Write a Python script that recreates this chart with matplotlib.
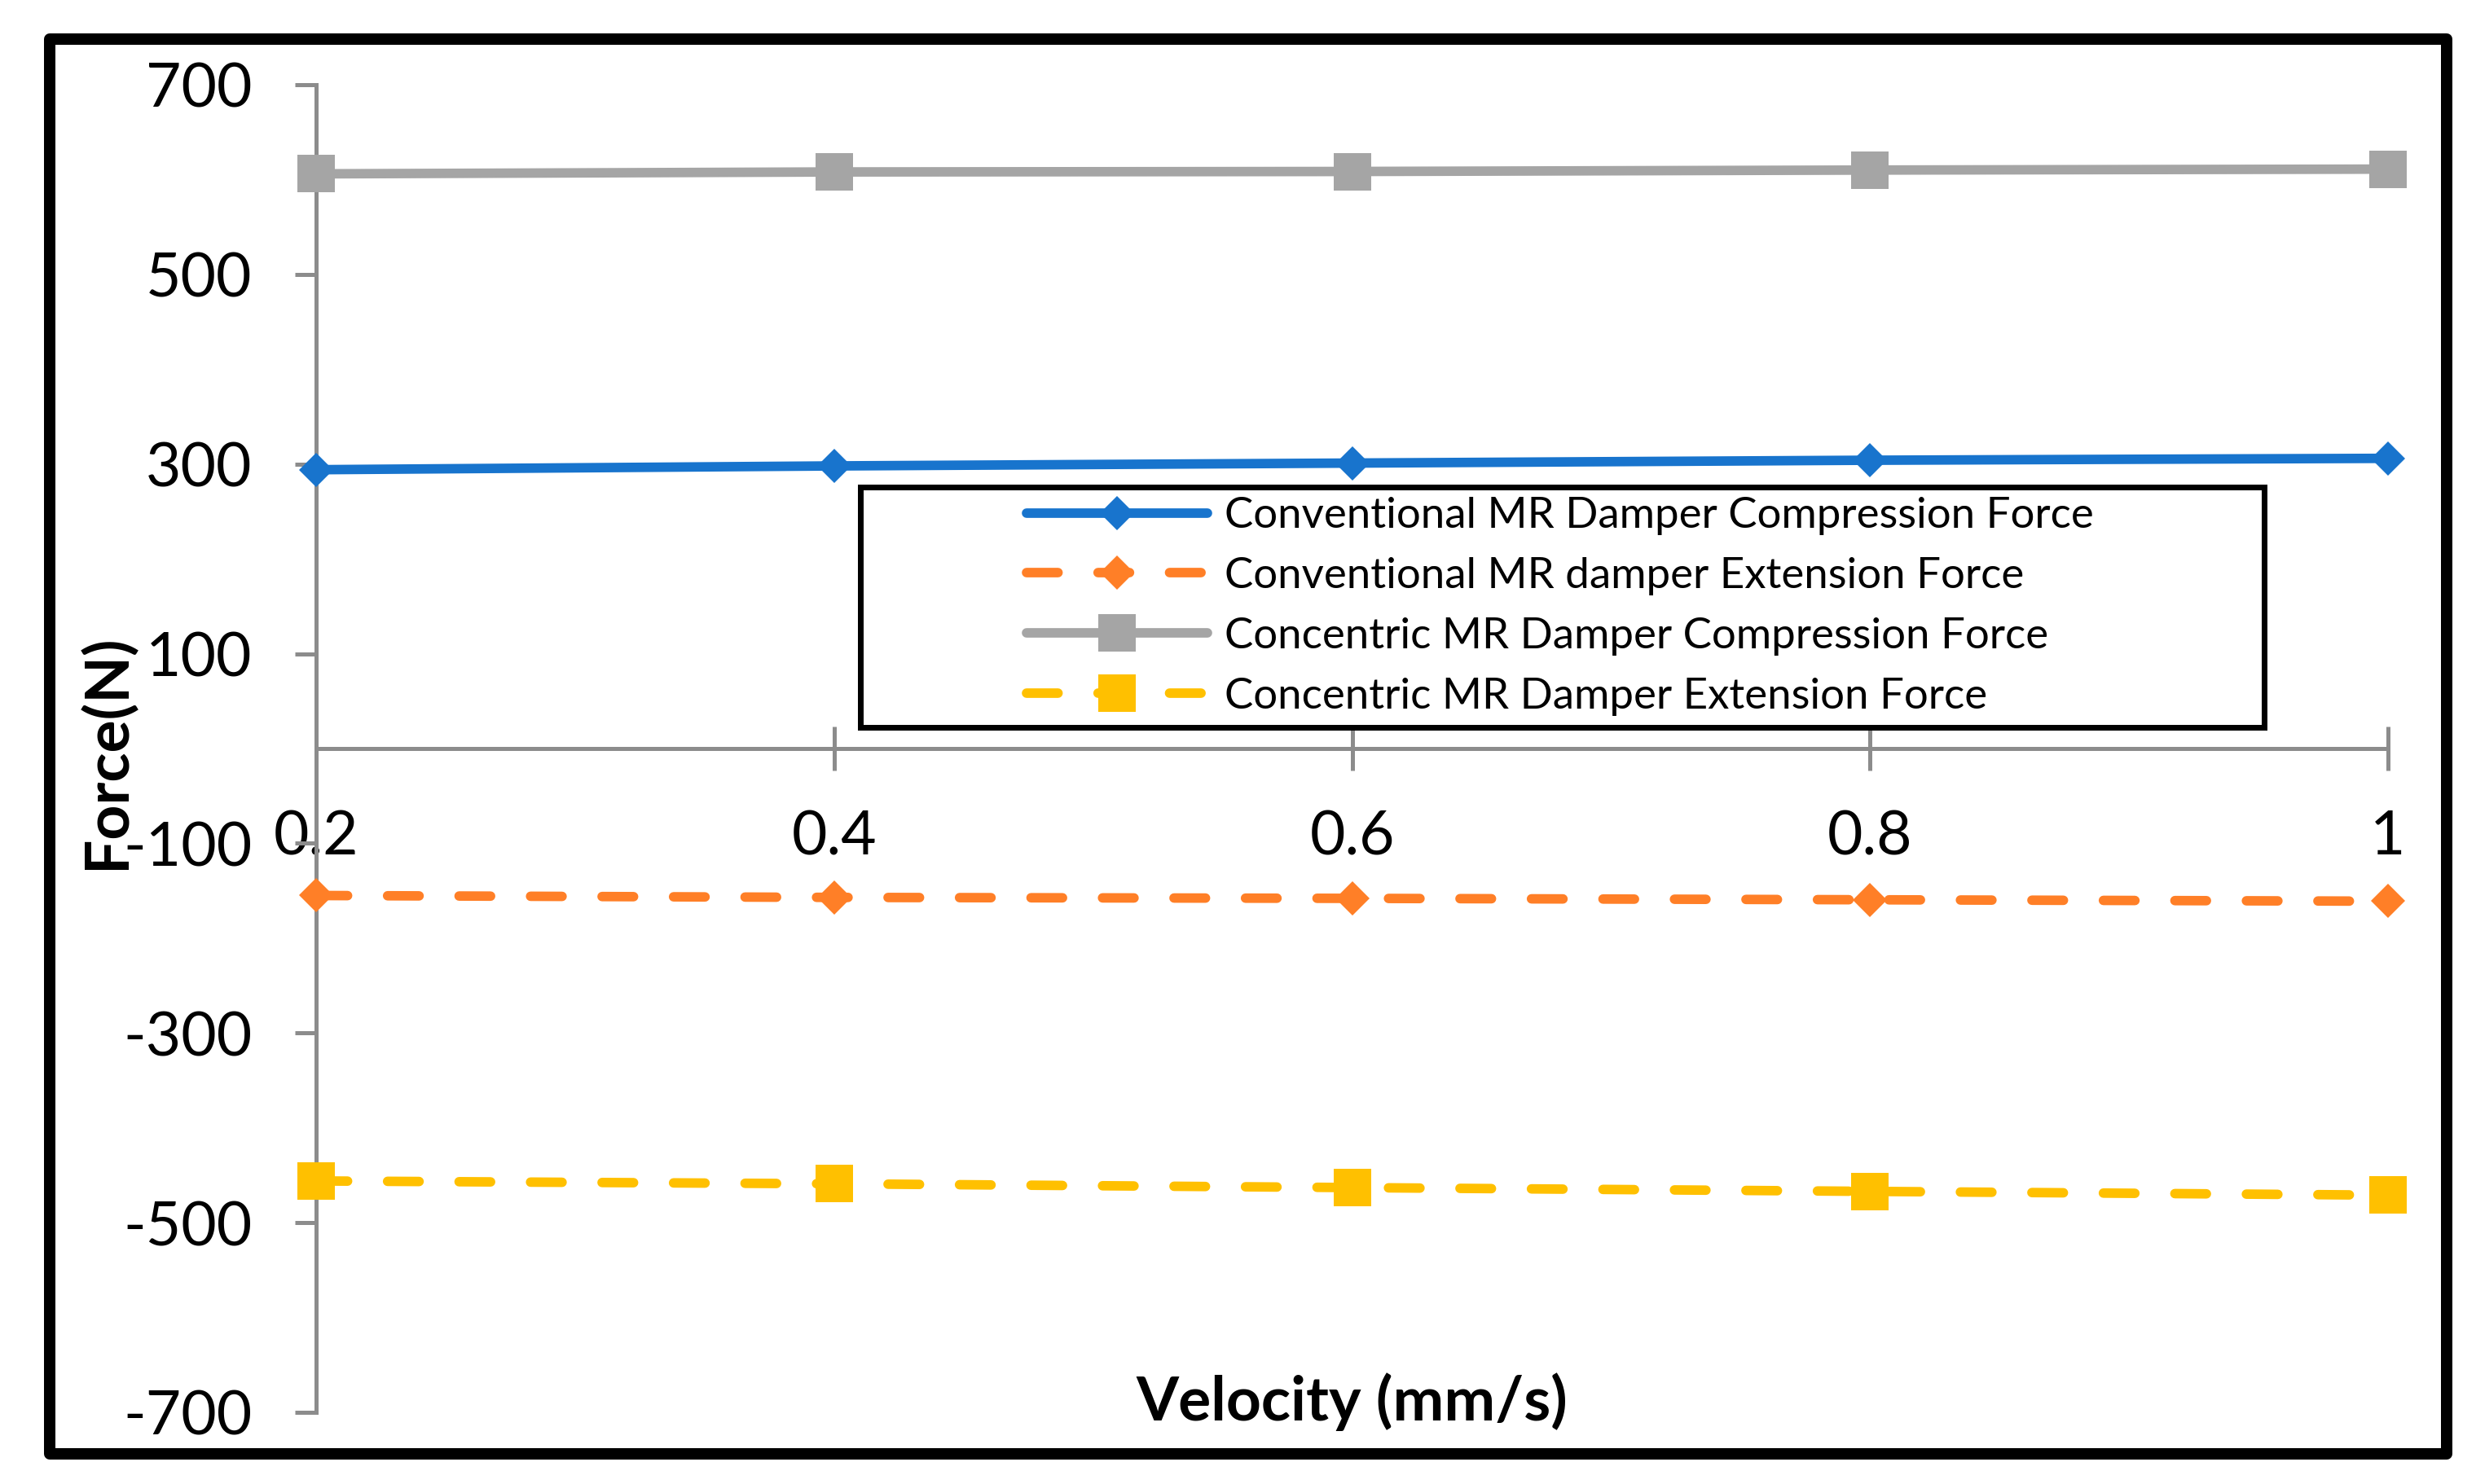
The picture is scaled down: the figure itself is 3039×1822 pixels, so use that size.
import matplotlib

matplotlib.use("Agg")
import matplotlib.pyplot as plt
from matplotlib.patches import Rectangle

# data
velocity = [0.2, 0.4, 0.6, 0.8, 1.0]
x_tick_labels = ["0.2", "0.4", "0.6", "0.8", "1"]
y_ticks = [-700, -500, -300, -100, 100, 300, 500, 700]

conv_compression = [294, 298, 301, 304, 306]
conv_extension = [-155, -157, -158, -159.5, -161]
conc_compression = [606, 608, 608.5, 610, 611]
conc_extension = [-456, -459, -463, -467, -471]

series_names = [
    "Conventional MR Damper Compression Force",
    "Conventional MR damper Extension Force",
    "Concentric MR Damper Compression Force",
    "Concentric MR Damper Extension Force",
]

plt.rcParams["font.family"] = ["Lato", "DejaVu Sans"]
plt.rcParams["axes.unicode_minus"] = False

W, H = 3039, 1822
DPI = 200
PT = 72 / DPI  # pixels -> points

AXIS_GREY = "#8C8C8C"
BLUE = "#1874CD"
ORANGE = "#FF7F27"
GREY = "#A5A5A5"
YELLOW = "#FFC000"

fig = plt.figure(figsize=(W / DPI, H / DPI), dpi=DPI)
ax = fig.add_axes([388 / W, 1 - 1734 / H, (2931 - 388) / W, (1734 - 104) / H])

lw = 11.7 * PT
dash = (3.3, 4.2)
diamond = 30.4 * PT
square = 46 * PT

common = dict(lw=lw, clip_on=False, zorder=3, mew=0,
              solid_capstyle="round", dash_capstyle="round")
l1, = ax.plot(velocity, conv_compression, color=BLUE, marker="D",
              ms=diamond, **common)
l2, = ax.plot(velocity, conv_extension, color=ORANGE, marker="D",
              ms=diamond, dashes=dash, **common)
l3, = ax.plot(velocity, conc_compression, color=GREY, marker="s",
              ms=square, **common)
l4, = ax.plot(velocity, conc_extension, color=YELLOW, marker="s",
              ms=square, dashes=dash, **common)

ax.set_xlim(0.2, 1.0)
ax.set_ylim(-700, 700)

# axes styling (Excel-like)
for s in ["top", "right"]:
    ax.spines[s].set_visible(False)
ax.spines["left"].set_color(AXIS_GREY)
ax.spines["left"].set_linewidth(5 * PT)
ax.spines["bottom"].set_position(("data", 0))
ax.spines["bottom"].set_color(AXIS_GREY)
ax.spines["bottom"].set_linewidth(5 * PT)

ax.set_yticks(y_ticks)
ax.set_yticklabels([str(v) for v in y_ticks])
ax.set_xticks(velocity)
ax.set_xticklabels(x_tick_labels)

ax.tick_params(axis="y", direction="out", length=26 * PT, width=5 * PT,
               color=AXIS_GREY, pad=19, labelsize=27)
ax.tick_params(axis="x", direction="inout", length=54 * PT, width=5 * PT,
               color=AXIS_GREY, pad=17, labelsize=27)

ax.text(0.5, -0.006, "Velocity (mm/s)", transform=ax.transAxes,
        ha="center", va="baseline", fontsize=27, fontweight="bold")
fig.text(153 / W, 1 - 923 / H, "Force(N)", rotation=90, rotation_mode="anchor",
         ha="center", va="baseline", fontsize=27, fontweight="bold")

# legend with its own box
box = Rectangle((1056 / W, 1 - 893 / H), (2779 - 1056) / W, (893 - 598) / H,
                transform=fig.transFigure, facecolor="white", edgecolor="black",
                lw=7 * PT, zorder=4, clip_on=False)
ax.add_patch(box)
leg = ax.legend([l1, l2, l3, l4], series_names, loc="upper left",
                bbox_to_anchor=(1260 / W, 1 - 610 / H),
                bbox_transform=fig.transFigure, frameon=False, borderpad=0,
                borderaxespad=0, handlelength=4.2, handletextpad=0.4,
                labelspacing=0.51, fontsize=19)
leg.set_zorder(5)

# outer chart border
frame = Rectangle((61 / W, 1 - 1785 / H), (3003 - 61) / W, (1785 - 48) / H,
                  transform=fig.transFigure, fill=False, edgecolor="black",
                  lw=14 * PT, joinstyle="round")
fig.add_artist(frame)

fig.savefig("out.png", dpi=DPI, facecolor="white")
